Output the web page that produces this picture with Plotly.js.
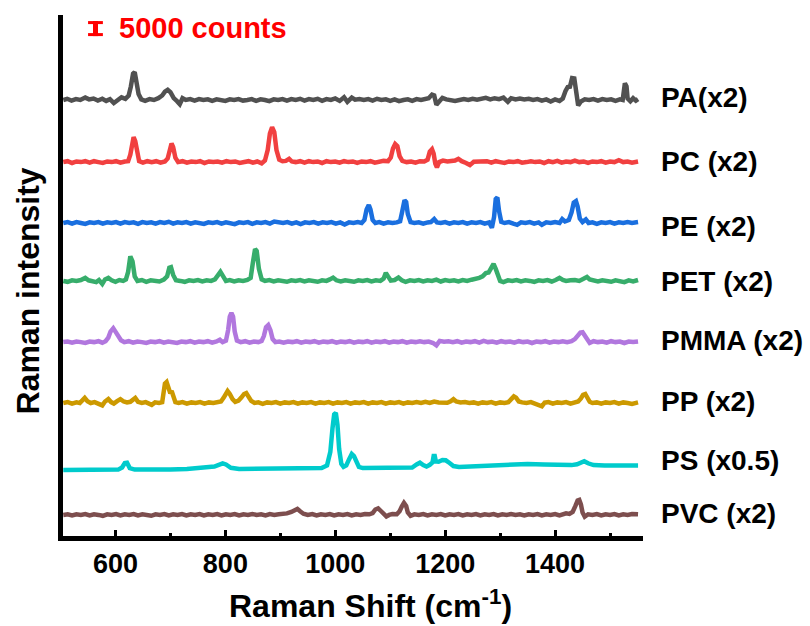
<!DOCTYPE html>
<html>
<head>
<meta charset="utf-8">
<script src="https://cdn.plot.ly/plotly-3.0.1.min.js"></script>
<style>html,body{margin:0;padding:0;background:#fff;}#chart{width:810px;height:626px;}</style>
</head>
<body>
<div id="chart"></div>
<script>
// Raman shift (cm^-1) , displayed intensity (k counts, already multiplied) relative to each baseline
const PA = [[505,0],[512,0.4],[520,-0.2],[528,0.3],[536,0],[545,0.8],[552,0.2],[560,0.5],[568,-0.2],[576,0.4],[583,-0.3],[590,0.3],[597,-1.0],[604,-0.2],[611,0.9],[618,0.4],[624,1.5],[628,4.5],[632,8.8],[635,9.3],[638,6.5],[642,2],[647,0.2],[654,-0.3],[662,0.3],[670,0],[678,0.6],[685,1.5],[690,2.8],[695,3.4],[700,2.6],[706,0.6],[712,-0.4],[717,-1.4],[722,0.6],[728,0],[736,0.3],[744,-0.2],[752,0.3],[760,0],[768,0.2],[776,-0.3],[784,0.2],[792,0],[800,-0.3],[808,0.2],[816,0],[824,0.3],[832,-0.2],[840,0],[848,0.3],[856,-0.3],[864,0.2],[872,0],[880,-0.4],[888,0.2],[896,0],[904,0.3],[912,-0.2],[920,0.3],[928,0],[936,0.4],[944,-0.2],[952,0.3],[960,0],[968,0.4],[976,-0.3],[984,0.3],[992,0],[1000,0.5],[1008,-0.3],[1016,0.9],[1022,-0.6],[1030,0.8],[1036,0.1],[1044,0.3],[1052,0],[1060,0.3],[1068,-0.2],[1076,0.4],[1084,0],[1092,0.2],[1100,-0.3],[1108,0.2],[1116,-0.4],[1124,0],[1132,0.2],[1140,-0.3],[1148,0.3],[1156,0],[1164,0.2],[1170,0.6],[1176,1.8],[1180,1.5],[1184,-1.6],[1189,-0.3],[1195,0.7],[1202,0.2],[1210,0],[1218,-0.3],[1226,0],[1234,0.3],[1242,0],[1250,0.4],[1258,0.1],[1266,0.4],[1274,0.7],[1282,0.2],[1290,0.6],[1298,0.3],[1306,0.8],[1314,-0.6],[1320,0.6],[1328,0.2],[1336,0.5],[1344,0.2],[1352,0.4],[1360,0],[1368,0.3],[1376,-0.2],[1384,0.2],[1392,-0.5],[1400,0.2],[1408,-0.3],[1414,0.5],[1419,3],[1423,4.3],[1427,4.4],[1431,7.3],[1435,7.2],[1438,3],[1442,-1.8],[1447,-0.5],[1454,0.2],[1462,0],[1470,0.3],[1478,-0.2],[1486,0.3],[1494,0],[1502,0.2],[1510,-0.3],[1518,0.2],[1523,0],[1525,4],[1527,5.6],[1530,4.5],[1532,0.5],[1537,-0.4],[1542,0.6],[1547,-0.2],[1551,0.3]];

const PC = [[505,0],[513,0.3],[521,-0.3],[529,0.2],[537,0],[545,0.3],[553,-0.2],[561,0.3],[569,0],[577,-0.3],[585,0.2],[593,0],[601,0.3],[609,-0.2],[617,0.2],[623,0.3],[627,2.5],[630,6.5],[633,8.3],[636,7],[639,3],[643,0.3],[650,-0.2],[658,0.3],[666,0],[674,0.3],[682,-0.2],[690,0.2],[695,1.2],[699,4.5],[702,6.2],[705,5],[709,1.5],[714,0],[722,0.3],[730,-0.2],[738,0.2],[746,0],[754,0.3],[762,-0.3],[770,0.2],[778,0],[786,0.2],[794,-0.2],[802,0.3],[810,0],[818,0.2],[826,-0.3],[834,0],[842,0.3],[850,-0.2],[858,0.2],[866,-0.4],[872,0.5],[877,4],[881,9.5],[885,11.6],[889,10],[893,4],[898,0.8],[904,0.3],[910,0.4],[916,1.1],[921,0.2],[928,0],[936,0.3],[944,-0.2],[952,0.3],[960,0],[968,0.2],[976,-0.3],[984,0.3],[992,0],[1000,0.2],[1008,-0.2],[1016,0.3],[1024,0],[1032,0.2],[1040,-0.3],[1048,0.2],[1056,0],[1064,0.3],[1072,-0.2],[1080,0.2],[1088,0.4],[1096,0.3],[1101,1.5],[1105,4.5],[1109,6],[1113,5.3],[1117,2],[1122,0.4],[1130,0],[1138,0.2],[1146,-0.2],[1154,0.3],[1162,0.2],[1168,0.8],[1172,3.5],[1176,4.3],[1179,2.8],[1182,-0.5],[1185,-1.8],[1189,0],[1196,0.5],[1204,0.2],[1212,0.4],[1218,0.5],[1224,1.1],[1230,0.3],[1238,-0.3],[1245,-1],[1252,0.1],[1260,0.2],[1268,0],[1276,0.3],[1284,-0.2],[1292,0.3],[1300,0],[1308,-0.3],[1316,0.2],[1324,0],[1332,0.3],[1340,-0.2],[1348,0],[1356,0.3],[1364,0],[1372,0.2],[1380,-0.3],[1388,0.3],[1396,0],[1404,0.4],[1412,-0.2],[1420,0.2],[1428,0],[1436,0.5],[1444,0],[1452,0.2],[1460,-0.3],[1468,0.2],[1476,0],[1484,0.3],[1492,-0.2],[1500,0.2],[1508,0],[1516,0.6],[1524,0],[1532,0.2],[1540,-0.2],[1551,0.2]];

const PE = [[505,0],[513,0.3],[521,-0.2],[529,0.3],[537,0],[545,-0.3],[553,0.2],[561,0],[569,0.3],[577,-0.2],[585,0.2],[593,0],[601,0.3],[609,-0.2],[617,0.3],[625,0],[633,0.2],[641,-0.3],[649,0.3],[657,0],[665,0.2],[673,-0.2],[681,0.3],[689,0],[697,0.4],[705,-0.2],[713,0.2],[721,0],[729,0.3],[737,-0.2],[745,0.2],[753,0],[761,-0.3],[769,0.2],[777,0],[785,0.3],[793,-0.2],[801,0.2],[809,0],[817,-0.4],[825,0.2],[833,0],[841,0.3],[849,-0.3],[857,0.2],[865,0],[873,0.3],[881,-0.2],[889,0.5],[897,0.2],[905,0],[913,0.3],[921,-0.2],[929,0.2],[937,-0.4],[945,0.2],[953,0],[961,0.3],[969,-0.2],[977,0.2],[985,0],[993,0.3],[1001,-0.2],[1009,0.2],[1017,-0.5],[1025,0.2],[1033,0],[1041,0.3],[1048,0],[1053,1],[1057,4.5],[1061,6],[1064,4.5],[1068,1],[1073,0],[1080,0.3],[1088,-0.2],[1096,0.2],[1104,0],[1112,0.2],[1118,0.6],[1122,4],[1126,7.6],[1129,7],[1132,3],[1137,0.3],[1144,0],[1152,0.2],[1160,-0.2],[1168,0.2],[1174,0.3],[1180,1.3],[1185,0.2],[1192,0],[1200,0.3],[1208,-0.2],[1216,0.2],[1224,0],[1232,0.3],[1240,-0.2],[1248,0.2],[1256,0],[1264,0.3],[1272,-0.2],[1280,0.2],[1285,-1.6],[1289,2],[1292,8],[1295,8.5],[1298,4],[1302,0.4],[1308,0],[1316,0.3],[1324,-0.2],[1331,-0.6],[1338,0.2],[1346,0],[1354,0.3],[1362,-0.2],[1370,0.2],[1376,-0.6],[1384,0.2],[1392,0],[1400,0.3],[1408,0],[1413,1.3],[1418,0.5],[1425,1],[1430,3.5],[1434,6.8],[1438,7.3],[1441,5.5],[1445,1.5],[1450,0.3],[1456,1.2],[1461,0],[1468,0.2],[1476,-0.3],[1484,0.2],[1492,0],[1500,0.3],[1508,-0.2],[1516,0.2],[1524,0],[1532,0.3],[1540,0],[1551,0.3]];

const PET = [[505,0],[513,-0.3],[521,0.2],[529,0],[537,0.3],[545,1],[551,0.2],[558,0],[565,-0.4],[570,0.3],[576,-1],[581,0.5],[587,1],[593,0.2],[600,-0.3],[607,0.3],[614,0],[619,0.5],[623,3],[627,8.2],[631,6.5],[635,1.5],[640,0],[648,0.3],[656,-0.3],[664,0.2],[672,0],[680,-0.2],[688,0.4],[694,1.5],[698,4.4],[701,4.6],[705,2],[710,0.2],[718,0],[726,-0.3],[734,0.2],[742,0],[750,0.3],[758,-0.2],[766,0.2],[774,0],[781,0.5],[786,2],[791,3],[796,1.5],[801,0],[808,0.3],[816,-0.2],[824,0.2],[832,0],[840,0.3],[846,1],[850,6],[854,10.6],[857,10],[861,4],[866,0.5],[872,0],[880,0.3],[888,-0.2],[896,0.2],[904,0],[912,-0.3],[920,0.2],[928,0],[936,0.3],[944,-0.2],[952,0.2],[960,0],[968,-0.3],[976,0.2],[984,0],[990,0.5],[996,1.1],[1002,0.2],[1010,-0.2],[1018,0.2],[1026,0],[1034,-0.3],[1042,0.2],[1050,0],[1058,0.3],[1066,-0.2],[1074,0.2],[1082,0],[1088,0.8],[1092,2.7],[1096,1.5],[1101,0.1],[1108,0.3],[1115,1.1],[1121,0.2],[1128,-0.3],[1136,0.2],[1144,0],[1152,0.3],[1160,-0.2],[1168,0.2],[1176,0],[1184,0.4],[1192,-0.2],[1200,0.3],[1208,0],[1216,0.2],[1224,-0.2],[1232,0.3],[1240,0],[1248,0.4],[1255,0.6],[1262,1],[1268,1.5],[1274,2.6],[1279,2.8],[1284,4.5],[1288,5.7],[1292,4],[1296,1.5],[1300,0],[1306,-0.4],[1314,0.2],[1322,0],[1330,0.3],[1338,-0.2],[1346,0.2],[1354,0],[1362,-0.3],[1370,0.2],[1378,0],[1386,0.3],[1394,-0.2],[1401,0.3],[1408,1],[1414,0.3],[1420,0],[1428,0.2],[1436,0.3],[1444,0],[1452,0.6],[1458,1.3],[1463,0.5],[1470,0.2],[1478,-0.2],[1486,0.2],[1494,0],[1502,-0.3],[1510,0.2],[1518,0],[1526,-0.4],[1534,0.2],[1542,-0.2],[1551,0.3]];

const PMMA = [[505,0],[513,0.2],[521,-0.2],[529,0.2],[537,0],[545,-0.3],[553,0.2],[561,0],[569,0.3],[576,-0.2],[582,0.3],[587,1.5],[591,3.5],[596,4.6],[600,3.5],[605,1.8],[610,0.6],[616,0],[624,0.3],[632,-0.2],[640,0.2],[648,0],[656,-0.3],[664,0.2],[672,0],[680,0.3],[688,-0.2],[696,0.2],[704,0],[712,-0.3],[720,0.2],[728,0],[736,0.3],[744,-0.2],[752,0.2],[760,0],[768,0.3],[776,-0.2],[784,0.2],[790,0.8],[795,0],[801,0.5],[805,4],[808,8.5],[811,9.7],[814,8.5],[817,3.5],[821,0.5],[828,0],[836,0.3],[844,-0.2],[852,0.2],[860,0],[866,0.4],[870,2],[874,5],[878,5.7],[882,4],[886,1],[891,0],[898,0.2],[906,-0.2],[914,0.2],[922,0],[930,0.3],[938,-0.2],[946,0.2],[954,0],[962,0.3],[970,-0.2],[978,0.2],[986,0],[994,0.3],[1002,-0.2],[1010,0.2],[1018,0],[1026,0.3],[1034,-0.2],[1042,0.2],[1050,0],[1058,0.3],[1066,-0.2],[1074,0.2],[1082,0],[1090,0.3],[1098,-0.2],[1106,0.2],[1114,0],[1122,0.3],[1130,-0.2],[1138,0.2],[1146,0],[1154,0.3],[1162,0],[1170,0.2],[1178,-0.3],[1184,-1.1],[1190,0.4],[1198,0.1],[1206,0.3],[1214,0],[1222,0.3],[1230,-0.2],[1238,0.2],[1246,0],[1254,0.3],[1262,-0.2],[1270,0.4],[1278,0],[1286,0.2],[1294,-0.2],[1302,0.3],[1310,0],[1318,0.2],[1326,-0.2],[1334,0.3],[1342,0],[1350,0.2],[1358,-0.3],[1366,0.2],[1374,0],[1382,0.3],[1390,-0.2],[1398,0.2],[1406,0],[1414,0.3],[1422,0],[1430,0.3],[1436,1],[1441,2],[1446,3.2],[1450,3.3],[1454,2.2],[1458,0.8],[1463,-0.3],[1470,0.3],[1478,0],[1486,0.2],[1494,-0.2],[1502,0.3],[1510,0],[1518,0.2],[1526,-0.3],[1534,0.2],[1542,0],[1551,0.2]];

const PP = [[505,0],[513,0.3],[521,-0.2],[529,0.2],[535,0],[540,1.2],[544,1.7],[549,0.6],[555,0],[562,0.3],[569,-0.4],[576,-0.8],[581,0.5],[587,1.3],[592,0.3],[597,-0.2],[603,0.6],[609,1.3],[615,0.5],[621,0.2],[627,0.4],[632,1.3],[636,1.7],[641,0.4],[648,0],[655,0.3],[661,-0.3],[666,-0.6],[672,0.2],[679,0],[685,0.3],[688,3],[690,6.5],[693,7],[696,4.5],[699,3.7],[703,3.6],[706,2],[709,0.3],[715,0],[722,0.3],[730,-0.2],[738,0.2],[746,0],[754,0.3],[762,-0.2],[770,0.2],[778,0],[786,0.3],[792,0.5],[797,1.8],[801,3.5],[804,4],[808,3],[813,1.3],[818,0.4],[824,0.8],[829,1.8],[834,3],[838,3.3],[842,2.3],[847,0.7],[853,0],[860,0.2],[868,-0.3],[876,0.2],[884,0],[892,0.3],[900,-0.2],[908,0.2],[916,0],[924,0.3],[932,-0.2],[940,0.2],[948,0],[956,0.3],[964,-0.2],[972,0.2],[980,0],[988,0.3],[996,-0.2],[1004,0.2],[1012,0],[1020,0.3],[1028,-0.2],[1036,0.2],[1044,0],[1052,0.3],[1060,-0.2],[1068,0.2],[1076,0],[1084,0.3],[1092,-0.2],[1100,0.2],[1108,0],[1116,0.3],[1124,-0.2],[1132,0.2],[1140,0],[1148,0.3],[1156,0],[1164,0.4],[1172,0],[1180,0.5],[1188,0.2],[1196,0.3],[1204,0.1],[1210,0.6],[1215,1.3],[1220,0.5],[1228,0.2],[1236,0.3],[1244,0],[1252,0.2],[1260,-0.2],[1268,0.2],[1276,0],[1284,0.3],[1292,-0.2],[1300,0.2],[1308,0],[1315,0.3],[1320,1.2],[1325,2.2],[1329,1.8],[1334,0.5],[1340,0.2],[1348,0],[1356,0.3],[1364,-0.2],[1371,-0.5],[1376,-1.1],[1381,0.1],[1388,0.3],[1396,-0.2],[1404,0.2],[1412,0],[1420,0.3],[1428,-0.2],[1436,0.2],[1442,0.5],[1447,1.5],[1451,2.7],[1455,3],[1459,2],[1463,0.4],[1468,0],[1476,0.2],[1484,-0.2],[1492,0.2],[1500,0],[1508,0.3],[1516,-0.2],[1524,0.2],[1532,0],[1540,-0.3],[1551,0.2]];

const PS = [[505,0],[540,0],[580,0],[605,0.1],[612,0.8],[617,2.3],[621,2.4],[626,0.6],[635,0.1],[660,0],[700,0.1],[730,0.3],[750,0.8],[770,1],[780,1.1],[788,1.8],[795,2.2],[801,1.8],[810,0.7],[825,0.3],[850,0.3],[880,0.4],[910,0.3],[940,0.5],[960,0.4],[975,0.6],[985,1.5],[991,6],[995,14],[998,18.5],[1001,19],[1004,15],[1007,7],[1011,2],[1015,1],[1020,1.5],[1025,3.5],[1030,5.3],[1034,4.6],[1038,2.5],[1043,1],[1050,0.6],[1070,0.6],[1090,0.5],[1110,0.6],[1130,0.7],[1140,0.8],[1148,1.8],[1154,2.4],[1160,1.6],[1166,1.1],[1172,1.7],[1177,2.5],[1179,4.6],[1181,4.6],[1183,2.8],[1188,2.7],[1195,3.3],[1201,3.2],[1208,2.3],[1215,1.3],[1225,1],[1250,1.2],[1280,1.5],[1310,2],[1330,2.2],[1350,2],[1380,1.8],[1410,1.6],[1430,1.6],[1440,1.9],[1448,2.7],[1453,2.9],[1460,2.2],[1470,1.6],[1490,1.5],[1520,1.5],[1551,1.5]];

const PVC = [[505,0],[513,0.2],[521,-0.2],[529,0.2],[537,0],[545,0.3],[553,-0.2],[561,0.2],[569,0],[577,-0.3],[585,0.2],[593,0],[601,0.3],[609,-0.2],[617,0.2],[625,0],[633,0.3],[641,-0.2],[649,0.2],[657,0],[665,-0.3],[673,0.2],[681,0],[689,0.3],[697,-0.2],[705,0.2],[713,0],[721,0.3],[729,-0.2],[737,0.2],[745,0],[753,0.3],[761,-0.2],[769,0.2],[777,0],[785,0.3],[793,-0.2],[801,0.2],[809,0],[817,0.3],[825,-0.2],[833,0.2],[841,0],[849,0.3],[857,0],[865,0.2],[873,-0.2],[881,0.3],[889,0],[897,0.2],[905,0.3],[912,0.5],[920,1],[926,1.6],[931,2],[936,1.2],[942,0.4],[950,0],[958,0.3],[966,-0.2],[974,0.2],[982,0],[990,0.3],[998,-0.2],[1006,0.2],[1014,0],[1022,0.3],[1030,-0.2],[1038,0.2],[1046,0],[1054,0.3],[1062,0.2],[1068,0.6],[1073,1.8],[1078,2.2],[1083,1.3],[1088,0.6],[1093,-0.5],[1098,0],[1104,0.3],[1112,0.2],[1117,1.2],[1121,2.8],[1125,4],[1129,3],[1132,0.8],[1137,-0.3],[1144,0.2],[1152,0],[1160,0.3],[1168,-0.2],[1176,0.2],[1184,0],[1192,0.3],[1200,-0.2],[1208,0.2],[1216,0],[1224,0.3],[1232,-0.2],[1240,0.2],[1248,0],[1256,0.3],[1264,-0.2],[1272,0.2],[1280,0],[1288,0.3],[1296,-0.2],[1304,0.2],[1312,0],[1320,0.3],[1328,0],[1336,0.2],[1344,-0.2],[1352,0.2],[1360,0],[1368,0.3],[1376,-0.2],[1384,0.2],[1392,0],[1400,0.3],[1408,-0.2],[1414,0.2],[1420,0.5],[1426,0.3],[1432,1],[1437,3],[1441,4.8],[1444,5],[1447,3.5],[1450,0.8],[1454,-0.6],[1460,0.2],[1468,0],[1476,0.3],[1484,-0.2],[1492,0.2],[1500,0],[1508,0.3],[1516,-0.2],[1524,0.2],[1532,0],[1540,0.3],[1551,0.2]];

const seriesData   = [PA, PC, PE, PET, PMMA, PP, PS, PVC];
const seriesLabels = ["PA(x2)", "PC (x2)", "PE (x2)", "PET (x2)", "PMMA (x2)", "PP (x2)", "PS (x0.5)", "PVC (x2)"];
const seriesOffsets = [146, 125.3, 105, 85.7, 65.3, 45, 22.7, 7.7];   // k counts
const seriesColors = ["#515151", "#F14040", "#1A6FDF", "#37AD6B", "#B177DE", "#CC9900", "#00CBCC", "#7D4E4E"];
const scaleBarCounts = 5;   // k counts  ("5000 counts")

// ---- layout geometry ----
const W = 810, H = 626;
const mL = 62.5, mR = 167, mT = 15, mB = 90;
const plotW = W - mL - mR, plotH = H - mT - mB;
const px2paperX = px => (px - mL) / plotW;
const px2paperY = py => (H - mB - py) / plotH;
const labelPx = [98, 162, 226, 281, 340, 401, 460, 513];

const FONT = "Liberation Sans, Arial, Helvetica, sans-serif";

const traces = seriesData.map((d, i) => ({
  type: "scatter", mode: "lines",
  x: d.map(p => p[0]),
  y: d.map(p => p[1] + seriesOffsets[i]),
  line: {color: seriesColors[i], width: 4.5},
  hoverinfo: "skip", showlegend: false
}));

const annotations = seriesLabels.map((t, i) => ({
  xref: "paper", yref: "paper", x: px2paperX(659), y: px2paperY(labelPx[i]),
  xanchor: "left", yanchor: "middle", showarrow: false,
  text: "<b>" + t + "</b>", font: {family: FONT, size: 28, color: "#000"}
}));
annotations.push({
  xref: "paper", yref: "paper", x: px2paperX(117), y: px2paperY(28),
  xanchor: "left", yanchor: "middle", showarrow: false,
  text: "<b>" + (scaleBarCounts * 1000) + " counts</b>", font: {family: FONT, size: 29, color: "#FF0000"}
});
annotations.push({
  xref: "paper", yref: "paper", x: px2paperX(27), y: px2paperY(291),
  xanchor: "center", yanchor: "middle", showarrow: false, textangle: -90,
  text: "<b>Raman intensity</b>", font: {family: FONT, size: 32, color: "#000"}
});
annotations.push({
  xref: "paper", yref: "paper", x: px2paperX(370), y: px2paperY(604),
  xanchor: "center", yanchor: "middle", showarrow: false,
  text: "<b>Raman Shift (cm<sup>-1</sup>)</b>", font: {family: FONT, size: 32, color: "#000"}
});

// scale bar "I" (5000 counts) drawn in data units
const sbX = 563.6, sbTop = 172.3, sbHalf = 13.5;
const sbBot = sbTop - scaleBarCounts;
const capInset = 0.5;
const shapes = [
  {type: "line", xref: "x", yref: "y", x0: sbX, x1: sbX, y0: sbBot, y1: sbTop, line: {color: "#FF0000", width: 5}},
  {type: "line", xref: "x", yref: "y", x0: sbX - sbHalf, x1: sbX + sbHalf, y0: sbTop - capInset, y1: sbTop - capInset, line: {color: "#FF0000", width: 3}},
  {type: "line", xref: "x", yref: "y", x0: sbX - sbHalf, x1: sbX + sbHalf, y0: sbBot + capInset, y1: sbBot + capInset, line: {color: "#FF0000", width: 3}}
];

const layout = {
  width: W, height: H,
  margin: {l: mL, r: mR, t: mT, b: mB, pad: 0},
  paper_bgcolor: "#fff", plot_bgcolor: "#fff",
  font: {family: FONT, color: "#000"},
  showlegend: false,
  xaxis: {
    range: [504.5, 1560], showgrid: false, zeroline: false,
    showline: true, linecolor: "#000", linewidth: 5,
    ticks: "inside", ticklen: 6, tickwidth: 3, tickcolor: "#000",
    dtick: 200, tick0: 0,
    minor: {dtick: 100, ticks: "inside", ticklen: 3, tickwidth: 3, tickcolor: "#000"},
    tickfont: {family: FONT, size: 27, color: "#000", weight: "bold"}
  },
  yaxis: {
    range: [0.667, 174.33], showgrid: false, zeroline: false,
    showline: true, linecolor: "#000", linewidth: 5,
    ticks: "", showticklabels: false
  },
  annotations: annotations,
  shapes: shapes
};

Plotly.newPlot("chart", traces, layout, {staticPlot: true, displayModeBar: false});
</script>
</body>
</html>
